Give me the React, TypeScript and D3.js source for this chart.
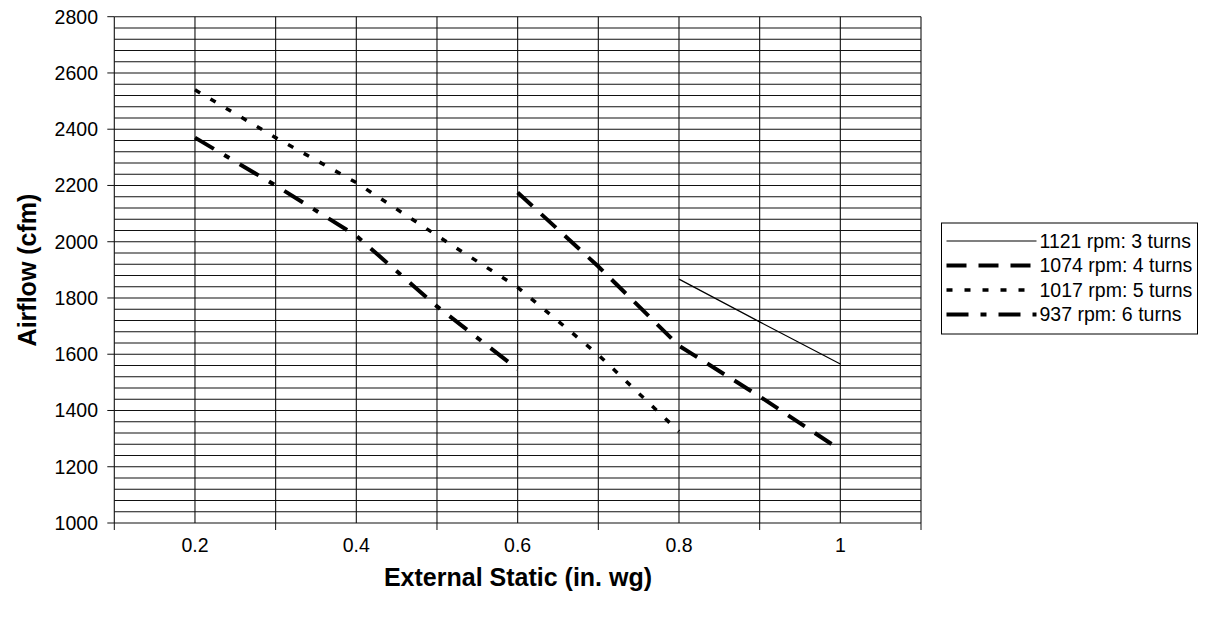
import React from "react";
import * as d3 from "d3";

const pressures = [0.2, 0.3, 0.4, 0.5, 0.6, 0.7, 0.8, 0.9, 1.0];
const rpm1121 = [null, null, null, null, null, null, 1867, 1715, 1565];
const rpm1074 = [null, null, null, null, 2175, 1912, 1630, 1450, 1260];
const rpm1017 = [2540, 2370, 2210, 2022, 1838, 1598, 1325, null, null];
const rpm937 = [2370, 2200, 2021, 1770, 1547, null, null, null, null];
const seriesNames = ["1121 rpm: 3 turns", "1074 rpm: 4 turns", "1017 rpm: 5 turns", "937 rpm: 6 turns"];
const xTickLabels = [0.2, 0.4, 0.6, 0.8, 1];
const yTickLabels = [1000, 1200, 1400, 1600, 1800, 2000, 2200, 2400, 2600, 2800];

const styles = [
  { w: 1.2, dash: "" },
  { w: 4, dash: "20,12" },
  { w: 3.5, dash: "6,12" },
  { w: 4, dash: "22,12,6,12" },
];

export default function App() {
  const W = 1209, H = 623;
  const x = d3.scaleLinear().domain([0.1, 1.1]).range([114.3, 921]);
  const y = d3.scaleLinear().domain([1000, 2800]).range([523, 16.7]);
  const font = "'Liberation Sans', Arial, Helvetica, sans-serif";
  const allSeries = [rpm1121, rpm1074, rpm1017, rpm937];
  const line = d3
    .line<[number, number | null]>()
    .defined((d) => d[1] != null)
    .x((d) => x(d[0]))
    .y((d) => y(d[1] as number));
  const hGrid = d3.range(1000, 2800.1, 40);
  const vGrid = d3.range(1, 12).map((i) => i / 10);
  const xTickMarks = [0.1, 0.3, 0.5, 0.7, 0.9, 1.1];
  const legX = 941.5, legY = 223, legW = 256, legH = 111;
  return (
    <svg width={W} height={H} style={{ position: "absolute", left: 0, top: 0, background: "#fff" }}>
      <rect x={0} y={0} width={W} height={H} fill="#fff" />
      {hGrid.map((v) => (
        <line key={"h" + v} x1={x(0.1)} x2={x(1.1)} y1={y(v)} y2={y(v)} stroke="#111" strokeWidth={1.1} />
      ))}
      {vGrid.map((v) => (
        <line key={"v" + v} x1={x(v)} x2={x(v)} y1={y(2800)} y2={y(1000)} stroke="#111" strokeWidth={1.1} />
      ))}
      {yTickLabels.map((v) => (
        <g key={"yt" + v}>
          <line x1={x(0.1) - 7} x2={x(0.1)} y1={y(v)} y2={y(v)} stroke="#111" strokeWidth={1} />
          <text x={98} y={y(v)} dy="0.35em" textAnchor="end" fontFamily={font} fontSize={19.5} fill="#000">
            {v}
          </text>
        </g>
      ))}
      {xTickMarks.map((v) => (
        <line key={"xm" + v} x1={x(v)} x2={x(v)} y1={y(1000)} y2={y(1000) + 7} stroke="#111" strokeWidth={1} />
      ))}
      {xTickLabels.map((v) => (
        <text key={"xl" + v} x={x(v)} y={552} textAnchor="middle" fontFamily={font} fontSize={19.5} fill="#000">
          {v}
        </text>
      ))}
      {allSeries.map((s, i) => (
        <path
          key={"s" + i}
          d={line(pressures.map((p, j) => [p, s[j]] as [number, number | null])) || ""}
          fill="none"
          stroke="#000"
          strokeWidth={styles[i].w}
          strokeDasharray={styles[i].dash || undefined}
        />
      ))}
      <text
        x={518}
        y={586}
        textAnchor="middle"
        fontFamily={font}
        fontSize={25}
        fontWeight="bold"
        fill="#000"
      >
        External Static (in. wg)
      </text>
      <text
        transform={`translate(36,270) rotate(-90)`}
        textAnchor="middle"
        fontFamily={font}
        fontSize={25}
        fontWeight="bold"
        fill="#000"
      >
        Airflow (cfm)
      </text>
      <rect x={legX} y={legY} width={legW} height={legH} fill="#fff" stroke="#000" strokeWidth={1} />
      {seriesNames.map((n, i) => {
        const cy = legY + 18 + i * 24.5;
        return (
          <g key={"leg" + i}>
            <line
              x1={legX + 5}
              x2={legX + 95}
              y1={cy}
              y2={cy}
              stroke="#000"
              strokeWidth={styles[i].w}
              strokeDasharray={styles[i].dash || undefined}
            />
            <text x={legX + 98} y={cy} dy="0.35em" fontFamily={font} fontSize={19.5} fill="#000">
              {n}
            </text>
          </g>
        );
      })}
    </svg>
  );
}
